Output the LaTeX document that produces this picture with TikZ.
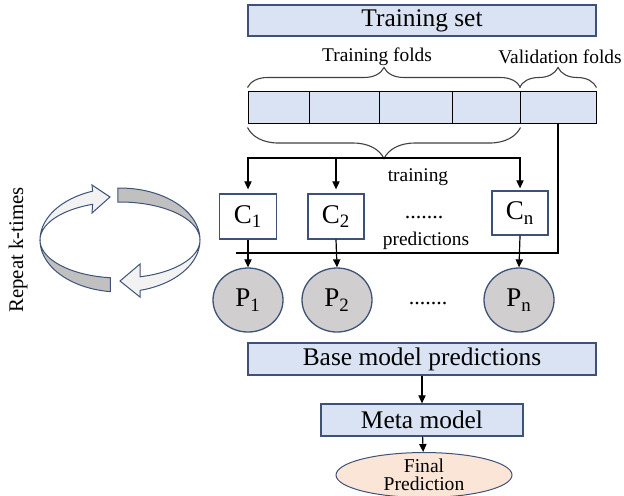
\documentclass[tikz,border=0pt]{standalone}
\usepackage{fontspec}
\setmainfont{Liberation Serif}
\usetikzlibrary{shapes.geometric,arrows.meta,decorations.pathreplacing}

\definecolor{boxblue}{RGB}{218,227,243}
\definecolor{edgeblue}{RGB}{62,82,118}
\definecolor{pgray}{RGB}{208,206,206}
\definecolor{peach}{RGB}{251,229,214}
\definecolor{bandlight}{RGB}{242,242,242}
\definecolor{banddark}{RGB}{192,192,192}

\begin{document}
\begin{tikzpicture}[x=0.5pt,y=-0.5pt,
  bigbox/.style={draw=edgeblue, line width=0.65pt, fill=boxblue, inner sep=0pt,
    minimum height=16pt, font=\fontsize{12.7}{15}\selectfont},
  fold/.style={draw=black, line width=0.5pt, fill=boxblue, inner sep=0pt, minimum height=16pt},
  clf/.style={draw=edgeblue, line width=0.65pt, fill=white, inner sep=0pt,
    minimum width=28.5pt, minimum height=22.5pt, font=\fontsize{13.5}{16}\selectfont},
  pred/.style={ellipse, draw=edgeblue, line width=0.65pt, fill=pgray, inner sep=0pt,
    minimum width=35pt, minimum height=32pt, font=\fontsize{13.5}{16}\selectfont},
  lbl/.style={inner sep=0pt, font=\fontsize{9.7}{11}\selectfont},
  dots/.style={inner sep=0pt, font=\fontsize{11}{13}\selectfont},
  arr/.style={-{Triangle[length=4pt,width=3.6pt]}, line width=0.6pt},
  brc/.style={draw=black!75, line width=0.55pt, decorate},
  band/.style={draw=edgeblue, line width=0.5pt}]

  \useasboundingbox (0,0) rectangle (624,495);

  % training set and folds
  \node[bigbox, minimum width=174pt, minimum height=15.5pt] (train) at (422,20.5) {Training set};
  \node[fold, minimum width=30.5pt] (f1) at (278.5,107) {};
  \node[fold, minimum width=35pt] (f2) at (344,107) {};
  \node[fold, minimum width=36.5pt] (f3) at (415.5,107) {};
  \node[fold, minimum width=34pt] (f4) at (486,107) {};
  \node[fold, minimum width=38pt] (f5) at (558,107) {};

  \draw[brc, decoration={brace, amplitude=10pt, raise=1.5pt}] (f1.north west) -- (f4.north east);
  \draw[brc, decoration={brace, amplitude=10pt, raise=1.5pt}] (f5.north west) -- (f5.north east);
  \draw[brc, decoration={brace, amplitude=15.5pt, raise=2pt}] (f4.south east) -- (f1.south west);

  \node[lbl] (tfolds) at (377,57) {Training folds};
  \node[lbl] (vfolds) at (560,57) {Validation folds};

  % classifiers
  \node[clf] (c1) at (248,216.5) {C\textsubscript{1}};
  \node[clf, minimum width=28pt] (c2) at (336,216.5) {C\textsubscript{2}};
  \node[clf, minimum width=28pt, minimum height=22pt] (cn) at (520,213) {C\textsubscript{n}};
  \node[dots] (cdots) at (424,217) {.......};
  \node[lbl] (trn) at (418,177) {training};
  \node[lbl] (prd) at (426,241) {predictions};

  \coordinate (split) at (384,158);
  \draw[arr, shorten >=2pt] (split) -| (c1.north);
  \draw[arr, shorten >=2pt] (split) -| (c2.north);
  \draw[arr, shorten >=1pt] (split) -| (cn.north);

  \coordinate (vend) at (236,253);
  \draw[line width=0.55pt] (f5.south) |- (vend);

  % predictions
  \node[pred] (p1) at (248,300) {P\textsubscript{1}};
  \node[pred] (p2) at (337,300) {P\textsubscript{2}};
  \node[pred] (pn) at (519,300) {P\textsubscript{n}};
  \node[dots] (pdots) at (428,303) {.......};

  \draw[arr] (c1) -- (p1);
  \draw[arr] (c2.south) -- (p2.north);
  \draw[arr] (cn.south) -- (pn.north);

  % meta level
  \node[bigbox, minimum width=174pt] (base) at (422,359) {Base model predictions};
  \node[bigbox, minimum width=101pt] (meta) at (422,420) {Meta model};
  \node[ellipse, draw=edgeblue, line width=0.5pt, fill=peach, inner sep=0pt,
    minimum width=88pt, minimum height=20pt, align=center,
    font=\fontsize{9.8}{9}\selectfont] (final) at (424,475) {Final\\Prediction};

  \draw[arr] (base) -- (meta);
  \draw[arr] (meta) -- (final);

  % repeat cycle
  \filldraw[band, fill=bandlight] plot[domain=180:110, samples=25] ({120+80*cos(\x)},{240-52*sin(\x)})
    -- (92,185) -- (110,197) -- (92,213)
    -- plot[domain=110:180, samples=25] ({120+80*cos(\x)},{240-38*sin(\x)}) -- cycle;
  \filldraw[band, fill=banddark] plot[domain=91.5:0, samples=25] ({120+80*cos(\x)},{240-52*sin(\x)})
    -- plot[domain=0:91.5, samples=25] ({120+80*cos(\x)},{240-38*sin(\x)}) -- cycle;
  \filldraw[band, fill=bandlight] plot[domain=0:-75.5, samples=25] ({120+80*cos(\x)},{240-52*sin(\x)})
    -- (140,297) -- (120,281) -- (140,264)
    -- plot[domain=-75.5:0, samples=25] ({120+80*cos(\x)},{240-38*sin(\x)}) -- cycle;
  \filldraw[band, fill=banddark] plot[domain=-97:-180, samples=25] ({120+80*cos(\x)},{240-52*sin(\x)})
    -- plot[domain=-180:-97, samples=25] ({120+80*cos(\x)},{240-38*sin(\x)}) -- cycle;

  \node[rotate=90, inner sep=0pt, font=\fontsize{10.4}{12}\selectfont] (rep) at (18,250) {Repeat k-times};
\end{tikzpicture}
\end{document}
